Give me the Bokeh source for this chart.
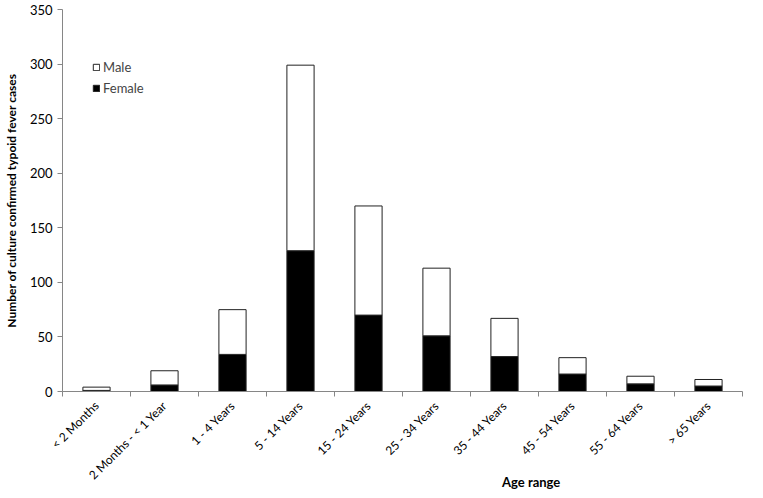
from bokeh.plotting import figure
from bokeh.models import ColumnDataSource, FixedTicker, Legend, LegendItem, Range1d, Div
from bokeh.layouts import column
from bokeh.embed import file_html
from bokeh.resources import INLINE
import math

categories = ["< 2 Months", "2 Months - < 1 Year", "1 - 4 Years", "5 - 14 Years",
              "15 - 24 Years", "25 - 34 Years", "35 - 44 Years", "45 - 54 Years",
              "55 - 64 Years", "> 65 Years"]
female = [1, 6, 34, 129, 70, 51, 32, 16, 7, 5]
male = [3, 13, 41, 170, 100, 62, 35, 15, 7, 6]
y_ticks = [0, 50, 100, 150, 200, 250, 300, 350]

xs = [i + 0.5 for i in range(len(categories))]
src = ColumnDataSource(dict(x=xs, Female=female, Male=male))

FONT = "Lato"
p = figure(width=747, height=490, output_backend="svg", toolbar_location=None,
           x_range=Range1d(0, len(categories)), y_range=Range1d(0, 350),
           min_border_left=50, min_border_right=5, min_border_top=9, min_border_bottom=0)

rs = p.vbar_stack(["Female", "Male"], x="x", width=0.4, source=src,
                  fill_color=["black", "white"], line_color="#222222", line_width=1)

p.xgrid.visible = False
p.ygrid.visible = False
p.outline_line_color = None

# x axis
p.xaxis.ticker = FixedTicker(ticks=xs, minor_ticks=list(range(len(categories) + 1)))
p.xaxis.major_label_overrides = {x: c for x, c in zip(xs, categories)}
p.xaxis.major_label_orientation = math.pi / 4
p.xaxis.major_tick_line_color = None
p.xaxis.minor_tick_out = 5
p.xaxis.minor_tick_in = 0
p.xaxis.minor_tick_line_color = "#868686"
p.xaxis.axis_line_color = "#868686"
p.xaxis.major_label_text_font = FONT
p.xaxis.major_label_text_font_size = "12px"
p.xaxis.major_label_text_color = "black"
p.xaxis.major_label_standoff = 6

# y axis
p.yaxis.ticker = FixedTicker(ticks=y_ticks)
p.yaxis.minor_tick_line_color = None
p.yaxis.major_tick_out = 5
p.yaxis.major_tick_in = 0
p.yaxis.major_tick_line_color = "#868686"
p.yaxis.axis_line_color = "#868686"
p.yaxis.major_label_text_font = FONT
p.yaxis.major_label_text_font_size = "13px"
p.yaxis.major_label_text_color = "black"
p.yaxis.axis_label = "Number of culture confirmed typoid fever cases"
p.yaxis.axis_label_text_font = FONT
p.yaxis.axis_label_text_font_size = "12px"
p.yaxis.axis_label_text_font_style = "bold"
p.yaxis.axis_label_text_color = "black"
p.yaxis.axis_label_standoff = 8

legend = Legend(items=[LegendItem(label="Male", renderers=[rs[1]]),
                       LegendItem(label="Female", renderers=[rs[0]])],
                location=(30, 294), glyph_width=8, glyph_height=8, label_height=18,
                spacing=3, padding=0, margin=0, border_line_color=None,
                background_fill_alpha=0, label_text_font=FONT, label_text_font_size="13px",
                label_standoff=3)
p.add_layout(legend)

xlabel = Div(text="Age range", width=80, height=16,
             styles={"margin-top": "-16px", "margin-left": "502px", "font-family": FONT,
                     "font-weight": "bold", "font-size": "13px", "color": "black",
                     "line-height": "16px"})

layout = column(p, xlabel, spacing=0)

open("out.html", "w").write(file_html(layout, INLINE))
